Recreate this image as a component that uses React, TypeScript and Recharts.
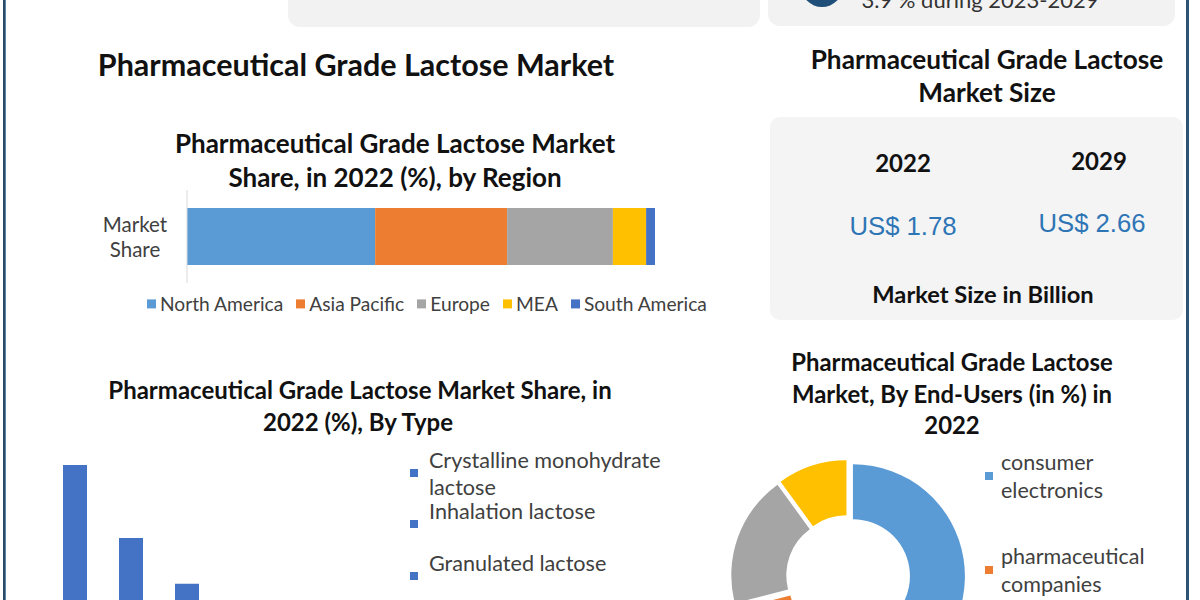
import React from "react";
import { BarChart, Bar, XAxis, YAxis, PieChart, Pie, Cell, Sector } from "recharts";

// region shares (stacked bar)
const regions = ["North America", "Asia Pacific", "Europe", "MEA", "South America"];
const regionShares = [40.2, 28.2, 22.6, 7.1, 1.9];
const regionColors = ["#5B9BD5", "#ED7D31", "#A5A5A5", "#FFC000", "#4472C4"];
const regionCategory = "Market Share";

// by type (column chart)
const types = ["Crystalline monohydrate lactose", "Inhalation lactose", "Granulated lactose"];
const typeShares = [52.5, 30.6, 16.9];

// by end-users (donut)
const endUsers = ["consumer electronics", "pharmaceutical companies", "food & beverages", "others"];
const endUserShares = [45, 26, 19, 10];
const endUserColors = ["#5B9BD5", "#ED7D31", "#A5A5A5", "#FFC000"];

// market size
const sizeYears = ["2022", "2029"];
const sizeValues = ["US$ 1.78", "US$ 2.66"];

const FONT = "Lato, 'Noto Sans', sans-serif";

const regionData = [
  regions.reduce(
    (row: any, r, i) => ({ ...row, [r]: regionShares[i] }),
    { name: regionCategory }
  ),
];
const typeData = types.map((t, i) => ({ name: t, share: typeShares[i] }));
const endUserData = endUsers.map((u, i) => ({ name: u, share: endUserShares[i] }));

type TxtProps = {
  x: number;
  y: number;
  size: number;
  bold?: boolean;
  color?: string;
  font?: string;
  children: React.ReactNode;
};

const Txt = ({ x, y, size, bold, color = "#111", font = FONT, children }: TxtProps) => (
  <div
    style={{
      position: "absolute",
      left: x,
      top: y,
      transform: "translate(-50%, -50%)",
      fontSize: size,
      fontWeight: bold ? 700 : 400,
      color,
      fontFamily: font,
      whiteSpace: "nowrap",
      lineHeight: 1,
    }}
  >
    {children}
  </div>
);

const MarketTick = (props: any) => {
  const { x, y, payload } = props;
  const words = String(payload.value).split(" ");
  return (
    <text x={x - 44} y={y} textAnchor="middle" fontSize={20.5} fill="#404040" fontFamily={FONT}>
      {words.map((w, i) => (
        <tspan key={i} x={x - 44} dy={i === 0 ? -5 : 25}>
          {w}
        </tspan>
      ))}
    </text>
  );
};

const ExplodedSector = (props: any) => {
  const { cx, cy, midAngle } = props;
  const rad = Math.PI / 180;
  const d = 5;
  return (
    <Sector
      {...props}
      cx={cx + d * Math.cos(-midAngle * rad)}
      cy={cy + d * Math.sin(-midAngle * rad)}
    />
  );
};

const Square = ({ color, size = 9 }: { color: string; size?: number }) => (
  <span style={{ display: "inline-block", width: size, height: size, background: color, flex: "none" }} />
);

const typeLegendY = [460, 511, 563];
const endUserLegendY = [462, 556, 650, 744];

export default function App() {
  return (
    <div
      style={{
        position: "absolute",
        left: 0,
        top: 0,
        width: 1200,
        height: 600,
        overflow: "hidden",
        background: "#fff",
        fontFamily: FONT,
      }}
    >
      {/* frame */}
      <div style={{ position: "absolute", left: 3, top: 0, width: 2, height: 600, background: "#2B4A68" }} />
      <div style={{ position: "absolute", left: 5, top: 0, width: 1, height: 600, background: "#5D87AB" }} />
      <div style={{ position: "absolute", left: 1186, top: 0, width: 3, height: 600, background: "#2F5373" }} />

      {/* top cut-off boxes */}
      <div style={{ position: "absolute", left: 288, top: -20, width: 472, height: 47, background: "#f2f2f2", borderRadius: 12 }} />
      <div style={{ position: "absolute", left: 768, top: -20, width: 407, height: 46, background: "#f2f2f2", borderRadius: 12 }} />
      <div style={{ position: "absolute", left: 801, top: -35, width: 42, height: 42, borderRadius: 21, background: "#1F4E79" }} />
      <Txt x={980} y={0} size={22} color="#333">3.9 % during 2023-2029</Txt>

      {/* main title */}
      <Txt x={356} y={64} size={30.5} bold>Pharmaceutical Grade Lactose Market</Txt>

      {/* region chart */}
      <Txt x={395} y={143} size={26} bold>Pharmaceutical Grade Lactose Market</Txt>
      <Txt x={395} y={177} size={26} bold>Share, in 2022 (%), by Region</Txt>
      <div style={{ position: "absolute", left: 0, top: 0 }}>
        <BarChart
          width={760}
          height={340}
          layout="vertical"
          data={regionData}
          margin={{ top: 190, right: 105, bottom: 57, left: 107 }}
          barSize={57}
        >
          <XAxis type="number" hide domain={[0, 100]} />
          <YAxis
            type="category"
            dataKey="name"
            width={80}
            axisLine={{ stroke: "#d9d9d9" }}
            tickLine={false}
            tick={<MarketTick />}
          />
          {regions.map((r, i) => (
            <Bar key={r} dataKey={r} stackId="a" fill={regionColors[i]} isAnimationActive={false} />
          ))}
        </BarChart>
      </div>
      <div
        style={{
          position: "absolute",
          left: 147,
          top: 304,
          transform: "translateY(-50%)",
          display: "flex",
          alignItems: "center",
          fontSize: 19.2,
          color: "#404040",
          whiteSpace: "nowrap",
          lineHeight: 1,
        }}
      >
        {regions.map((r, i) => (
          <span key={r} style={{ display: "flex", alignItems: "center", marginRight: 13 }}>
            <Square color={regionColors[i]} />
            <span style={{ marginLeft: 4 }}>{r}</span>
          </span>
        ))}
      </div>

      {/* market size panel */}
      <Txt x={987} y={59} size={26.2} bold>Pharmaceutical Grade Lactose</Txt>
      <Txt x={987} y={92} size={26.2} bold>Market Size</Txt>
      <div style={{ position: "absolute", left: 770, top: 117, width: 413, height: 203, background: "#f4f4f4", borderRadius: 10 }} />
      <Txt x={903} y={163} size={24} bold>{sizeYears[0]}</Txt>
      <Txt x={1099} y={161} size={24} bold>{sizeYears[1]}</Txt>
      <Txt x={903} y={227} size={25.7} color="#2E75B6" font="'Liberation Sans', Arial, sans-serif">{sizeValues[0]}</Txt>
      <Txt x={1092} y={224} size={25.7} color="#2E75B6" font="'Liberation Sans', Arial, sans-serif">{sizeValues[1]}</Txt>
      <Txt x={983} y={295} size={23.7} bold>Market Size in Billion</Txt>

      {/* by type */}
      <Txt x={360} y={390} size={24} bold>Pharmaceutical Grade Lactose Market Share, in</Txt>
      <Txt x={358} y={422} size={24} bold>2022 (%), By Type</Txt>
      <div style={{ position: "absolute", left: 0, top: 0 }}>
        <BarChart
          width={260}
          height={700}
          data={typeData}
          margin={{ top: 440, right: 45, bottom: 60, left: 47 }}
          barSize={24}
        >
          <XAxis dataKey="name" hide />
          <YAxis hide domain={[0, 60]} />
          <Bar dataKey="share" fill="#4472C4" isAnimationActive={false} />
        </BarChart>
      </div>
      {types.map((t, i) => (
        <div
          key={t}
          style={{
            position: "absolute",
            left: 410,
            top: typeLegendY[i] - 13.5,
            width: 270,
            display: "flex",
            alignItems: "flex-start",
            fontSize: 21.6,
            lineHeight: "27px",
            color: "#404040",
          }}
        >
          <span style={{ marginTop: 9 }}>
            <Square color="#4472C4" size={8} />
          </span>
          <span style={{ marginLeft: 11 }}>{t}</span>
        </div>
      ))}

      {/* by end-users */}
      <Txt x={952} y={362} size={23.9} bold>Pharmaceutical Grade Lactose</Txt>
      <Txt x={952} y={394} size={23.9} bold>Market, By End-Users (in %) in</Txt>
      <Txt x={952} y={425} size={23.9} bold>2022</Txt>
      <div style={{ position: "absolute", left: 693, top: 422 }}>
        <PieChart width={300} height={300}>
          <Pie
            data={endUserData}
            dataKey="share"
            nameKey="name"
            cx={150}
            cy={150}
            innerRadius={57}
            outerRadius={112}
            startAngle={90}
            endAngle={-270}
            stroke="none"
            shape={ExplodedSector}
            isAnimationActive={false}
          >
            {endUserData.map((d, i) => (
              <Cell key={d.name} fill={endUserColors[i]} />
            ))}
          </Pie>
        </PieChart>
      </div>
      {endUsers.map((u, i) => (
        <div
          key={u}
          style={{
            position: "absolute",
            left: 985,
            top: endUserLegendY[i] - 14,
            width: 165,
            display: "flex",
            alignItems: "flex-start",
            fontSize: 21.5,
            lineHeight: "28px",
            color: "#404040",
          }}
        >
          <span style={{ marginTop: 10 }}>
            <Square color={endUserColors[i]} size={8} />
          </span>
          <span style={{ marginLeft: 8 }}>{u}</span>
        </div>
      ))}
    </div>
  );
}
